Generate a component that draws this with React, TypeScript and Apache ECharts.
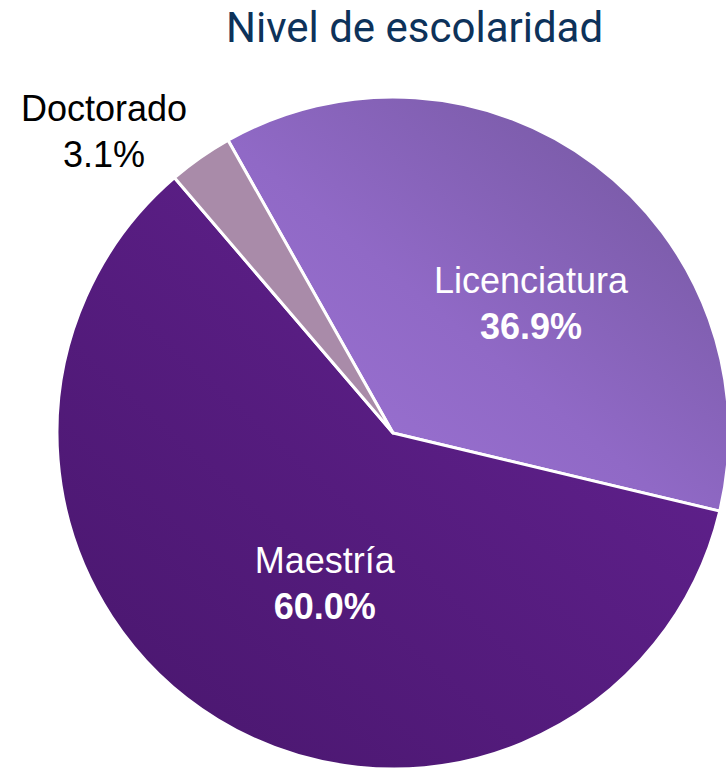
import React, { useEffect, useRef } from "react";
import * as echarts from "echarts";

const titleText = "Nivel de escolaridad";
const categories = ["Licenciatura", "Maestría", "Doctorado"];
const values = [36.9, 60.0, 3.1];

export default function App() {
  const ref = useRef<HTMLDivElement>(null);
  useEffect(() => {
    if (!ref.current) return;
    const chart = echarts.init(ref.current, null, { renderer: "svg" });
    const styles = [
      {
        color: new echarts.graphic.LinearGradient(0, 1, 1, 0, [
          { offset: 0, color: "#9e74d6" },
          { offset: 0.45, color: "#9069c6" },
          { offset: 1, color: "#71559b" },
        ]),
      },
      {
        color: new echarts.graphic.LinearGradient(1, 0, 0, 1, [
          { offset: 0, color: "#652394" },
          { offset: 1, color: "#48166c" },
        ]),
      },
      { color: "#a98ba9" },
    ];
    const labelCfg = [
      { color: "#ffffff", offset: [35, 7] },
      { color: "#ffffff", offset: [21, 5] },
      { color: "#000000", offset: [-191, -161] },
    ];
    const data = categories.map((name, i) => ({
      name,
      value: values[i],
      itemStyle: styles[i],
      label: {
        offset: labelCfg[i].offset,
        rich: {
          n: { color: labelCfg[i].color, fontSize: 36, fontFamily: "Liberation Sans, Arial", lineHeight: 46, align: "center" },
          p: {
            color: labelCfg[i].color,
            fontSize: 36,
            fontFamily: "Liberation Sans, Arial",
            fontWeight: i === 2 ? "normal" : "bold",
            lineHeight: 46,
            align: "center",
          },
        },
      },
    }));
    chart.setOption({
      animation: false,
      title: {
        text: titleText,
        left: 226,
        top: 6,
        padding: 0,
        textStyle: { fontFamily: "Roboto", fontSize: 42, fontWeight: "normal", color: "#0d325a" },
      },
      series: [
        {
          type: "pie",
          center: [393, 433],
          radius: [0, 336],
          startAngle: 119.4,
          clockwise: true,
          avoidLabelOverlap: false,
          itemStyle: { borderColor: "#ffffff", borderWidth: 3 },
          label: {
            show: true,
            position: "inside",
            formatter: (p: any) => `{n|${p.name}}\n{p|${Number(p.value).toFixed(1)}%}`,
          },
          labelLine: { show: false },
          emphasis: { disabled: true },
          data,
        },
      ],
    });
    return () => chart.dispose();
  }, []);
  return <div ref={ref} style={{ position: "absolute", left: 0, top: 0, width: 726, height: 769 }} />;
}
